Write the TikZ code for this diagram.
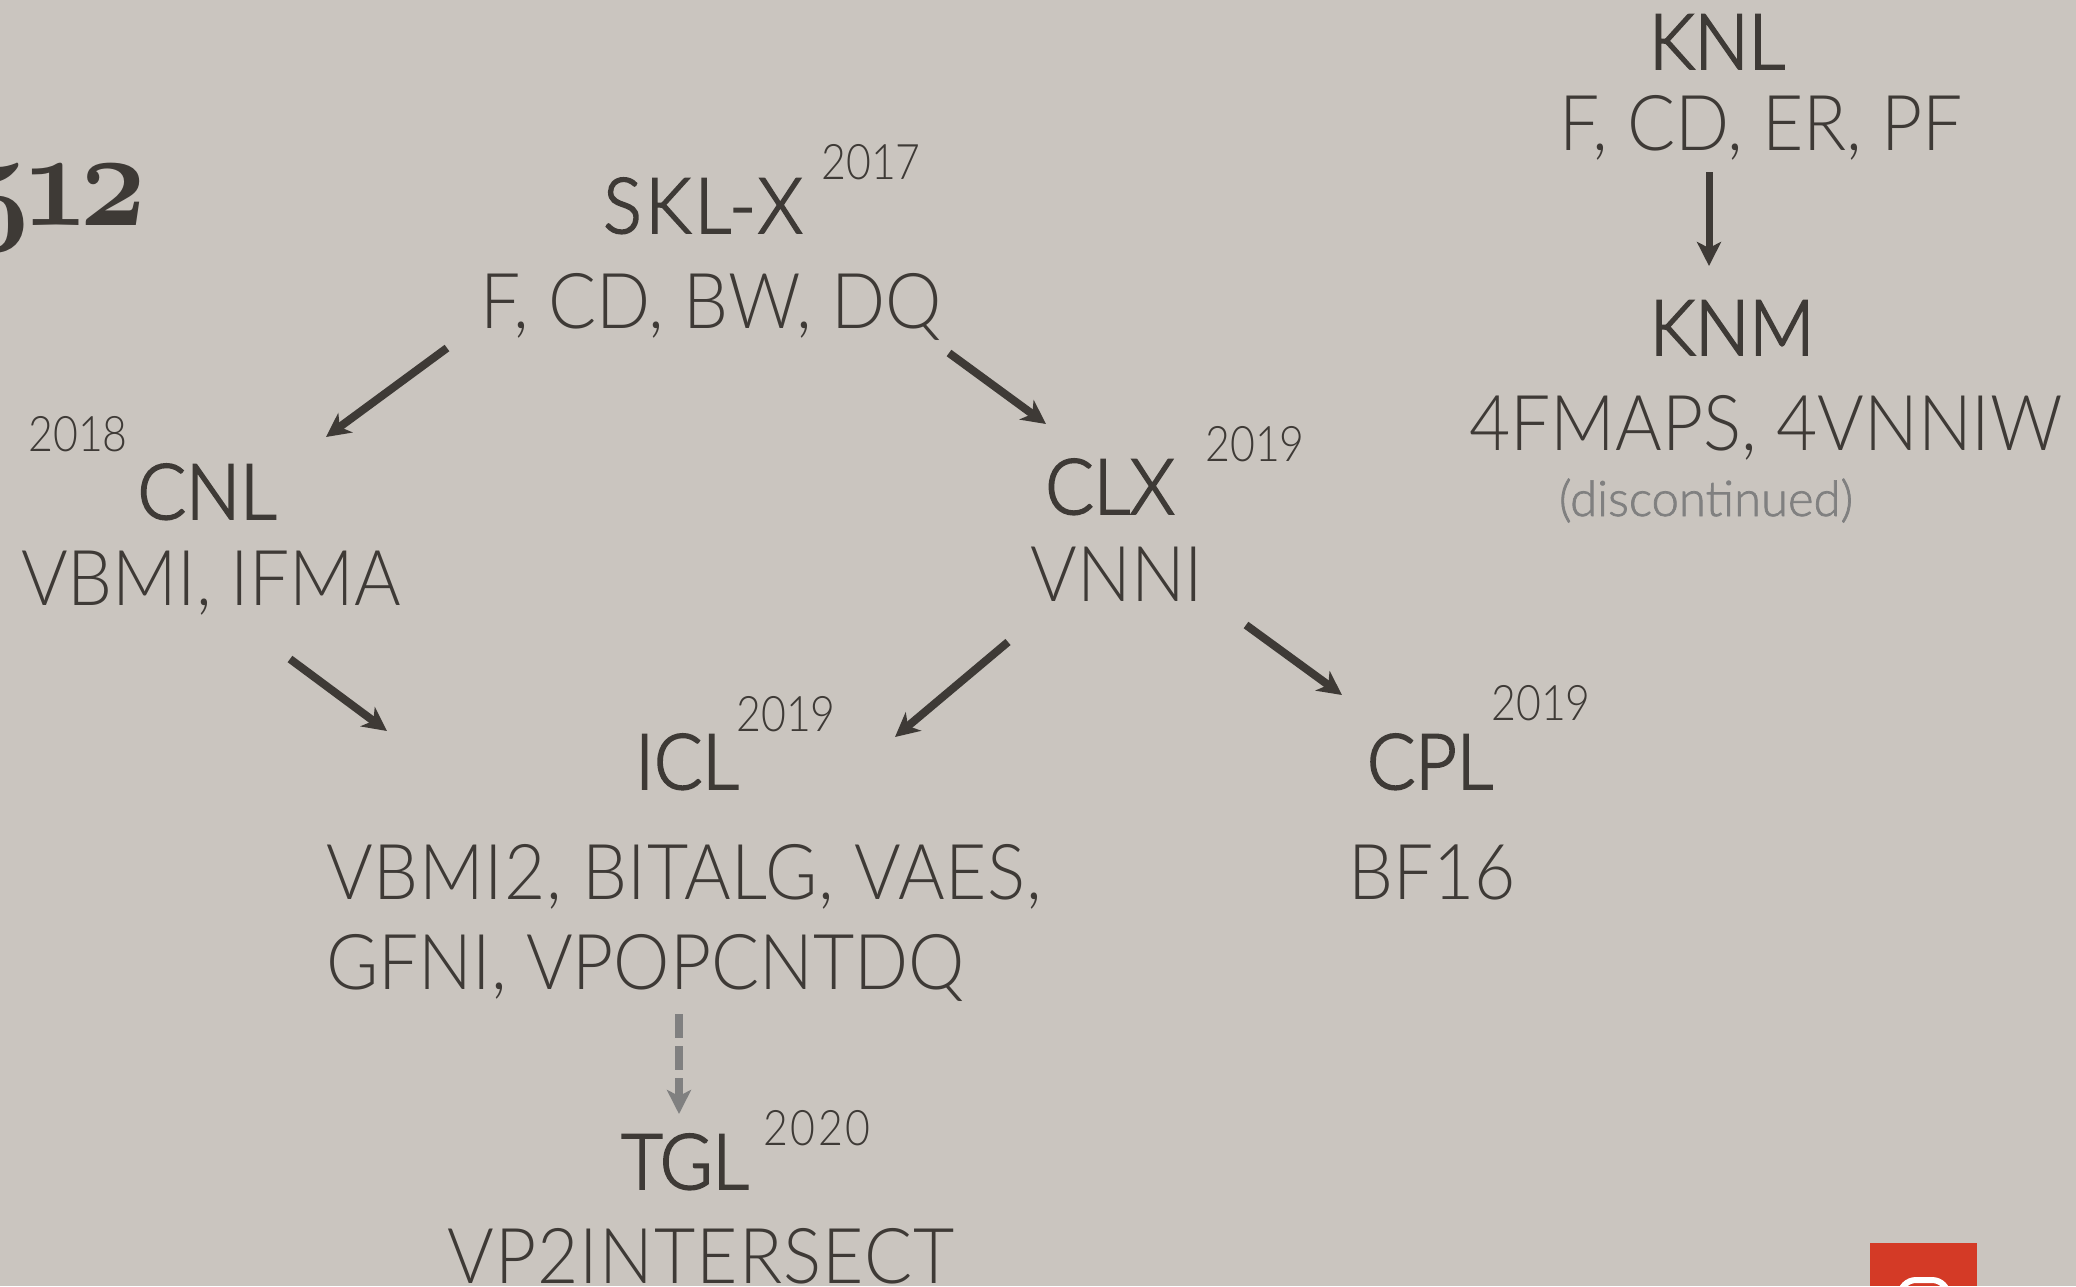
\documentclass[tikz,border=0pt]{standalone}
\usepackage{fontspec}
\usepackage{tikz}
\usetikzlibrary{calc}
\usetikzlibrary{arrows.meta}
\setmainfont[FakeStretch=0.925]{Lato Light}
\newfontfamily\headfont[FakeStretch=0.93,FakeBold=2.5]{Lato Light}
\newfontfamily\yearfont[FakeStretch=0.875]{Lato Light}
\newfontfamily\notefont[FakeBold=1.5]{Lato Light}
\newfontfamily\titlefont[Numbers=OldStyle,FakeStretch=0.87,LetterSpace=-5]{Latin Modern Roman}
\definecolor{slidebg}{HTML}{CAC5BF}
\definecolor{ink}{HTML}{3E3A36}
\definecolor{fade}{HTML}{808080}
\definecolor{logored}{HTML}{D43A26}

\begin{document}
\begin{tikzpicture}[
  x=1pt,y=-1pt,
  chip/.style={anchor=base,inner sep=0pt,text=ink,font=\headfont\fontsize{77}{77}\selectfont},
  ext/.style={anchor=base,inner sep=0pt,text=ink,font=\fontsize{77}{77}\selectfont},
  year/.style={anchor=base,inner sep=0pt,text=ink,font=\yearfont\fontsize{49}{49}\selectfont},
  note/.style={anchor=base,inner sep=0pt,text=fade,font=\notefont\fontsize{49}{49}\selectfont},
  link/.style={draw=ink,line width=8pt,-{Stealth[length=24pt,width=24pt,inset=7pt]}},
  thinlink/.style={draw=ink,line width=7pt,-{Stealth[length=24pt,width=24pt,inset=6pt]}},
  planned/.style={draw=fade,line width=8pt,dash pattern=on 24pt off 8pt,-{Stealth[length=24pt,width=24pt,inset=6pt]}}
]
  % Background
  \path[use as bounding box,fill=slidebg] (0,0) rectangle (2076,1286);

  % Title fragment
  \node[anchor=base east,inner sep=0pt,text=ink,font=\titlefont\bfseries\fontsize{135}{135}\selectfont] (title) at (150,225) {512};

  % Main line
  \node[chip] (sklx) at (703,233) {\addfontfeature{LetterSpace=5}SKL-X};
  \node[year] (sklxyear) at (871,179) {2017};
  \node[ext] (sklxext) at (711,328) {F, CD, BW, DQ};
  \node[chip] (cnl) at (207,519) {CNL};
  \node[year] (cnlyear) at (78,451) {2018};
  \node[ext] (cnlext) at (211,605) {VBMI, IFMA};
  \node[chip] (clx) at (1110,514) {CLX};
  \node[year] (clxyear) at (1255,461) {2019};
  \node[ext] (clxext) at (1117,601) {VNNI};
  \node[chip] (icl) at (687,789) {ICL};
  \node[year] (iclyear) at (786,731) {2019};
  \node[ext,anchor=base west] (iclexta) at (326,899) {\addfontfeature{LetterSpace=1}VBMI2, BITALG, VAES,};
  \node[ext,anchor=base west] (iclextb) at (326,989) {GFNI, VPOPCNTDQ};
  \node[chip] (cpl) at (1430,789) {CPL};
  \node[year] (cplyear) at (1541,720) {2019};
  \node[ext] (cplext) at (1432,899) {BF16};
  \node[chip] (tgl) at (685,1189) {TGL};
  \node[year] (tglyear) at (817,1145) {\addfontfeature{LetterSpace=5}2020};
  \node[ext] (tglext) at (701,1283) {\addfontfeature{LetterSpace=1.5}VP2INTERSECT};

  % Phi line
  \node[chip] (knl) at (1717,69) {KNL};
  \node[ext] (knlext) at (1761,150) {F, CD, ER, PF};
  \node[chip] (knm) at (1732,355) {KNM};
  \node[ext] (knmext) at (1766,450) {4FMAPS, 4VNNIW};
  \node[note] (knmnote) at (1706,516) {(discontinued)};

  % Arrow ends
  \coordinate (sklxL) at ($(sklxext.base)+(-264,20)$);
  \coordinate (sklxR) at ($(sklxext.base)+(238,25)$);
  \coordinate (cnlin) at ($(cnl.base)+(119,-82)$);
  \coordinate (clxin) at ($(clx.base)+(-64,-90)$);
  \coordinate (cnlout) at ($(cnlext.base)+(79,54)$);
  \coordinate (clxoutL) at ($(clxext.base)+(-109,41)$);
  \coordinate (clxoutR) at ($(clxext.base)+(129,24)$);
  \coordinate (iclinL) at ($(icl.base)+(-300,-58)$);
  \coordinate (iclinR) at ($(icl.base)+(208,-52)$);
  \coordinate (cplin) at ($(cpl.base)+(-88,-94)$);
  \coordinate (knlout) at ($(knlext.base)+(-52,22)$);
  \coordinate (knmin) at ($(knm.base)+(-23,-89)$);
  \coordinate (iclout) at ($(iclextb.base west)+(353,25)$);
  \coordinate (tglin) at ($(tgl.base)+(-6,-75)$);

  % Arrows
  \draw[link] (sklxL) -- (cnlin);
  \draw[link] (sklxR) -- (clxin);
  \draw[link] (cnlout) -- (iclinL);
  \draw[link] (clxoutL) -- (iclinR);
  \draw[link] (clxoutR) -- (cplin);
  \draw[thinlink] (knlout) -- (knmin);
  \draw[planned] (iclout) -- (tglin);

  % Logo corner
  \fill[logored] (1870,1243) rectangle (1977,1286);
  \draw[white,line width=6pt,rounded corners=16pt] (1900,1310) rectangle (1948,1280);
\end{tikzpicture}
\end{document}
